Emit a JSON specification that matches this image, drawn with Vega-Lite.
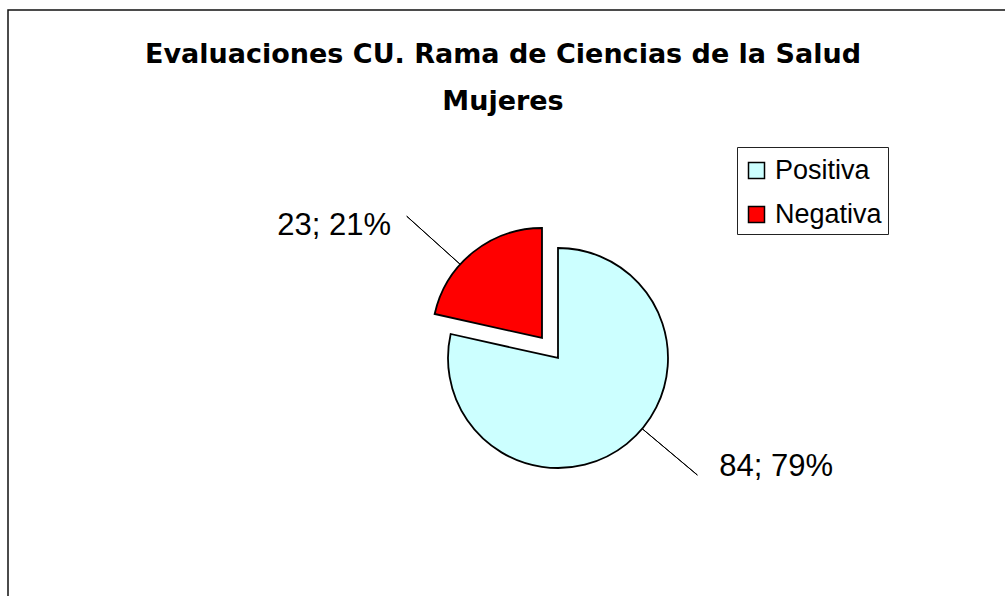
{
  "$schema": "https://vega.github.io/schema/vega-lite/v6.json",
  "width": 1100,
  "height": 696,
  "autosize": {"type": "none"},
  "padding": {"left": 8, "top": 10, "right": 0, "bottom": 0},
  "background": "white",
  "view": {"stroke": "#111", "strokeWidth": 1.5, "fill": "white"},
  "config": {"view": {"stroke": "#111", "strokeWidth": 1.5}, "font": "Liberation Sans"},
  "title": {
    "text": ["Evaluaciones CU. Rama de Ciencias de la Salud", "Mujeres"],
    "font": "DejaVu Sans",
    "fontSize": 27,
    "fontWeight": "bold",
    "color": "#000",
    "anchor": "middle",
    "dx": -55,
    "offset": -106,
    "lineHeight": 47
  },
  "data": {
    "values": [
      {"category": "Positiva", "count": 84, "label": "84; 79%"},
      {"category": "Negativa", "count": 23, "label": "23; 21%"}
    ]
  },
  "layer": [
    {
      "transform": [
        {"stack": "count", "groupby": [], "sort": [{"field": "category", "order": "descending"}], "as": ["t0", "t1"]},
        {"filter": "datum.category === 'Positiva'"}
      ],
      "mark": {"type": "arc", "radius": 110, "stroke": "#000", "strokeWidth": 1.8},
      "encoding": {
        "theta": {"field": "t0", "type": "quantitative"},
        "theta2": {"field": "t1"},
        "color": {
          "field": "category",
          "type": "nominal",
          "scale": {"domain": ["Positiva", "Negativa"], "range": ["#CCFFFF", "#FF0000"]},
          "legend": {
            "title": " ",
            "titleFontSize": 3,
            "titlePadding": 1,
            "orient": "none",
            "legendX": 729,
            "legendY": 137,
            "direction": "vertical",
            "strokeColor": "#222",
            "fillColor": "#fff",
            "padding": 6,
            "symbolType": "square",
            "symbolSize": 256,
            "symbolStrokeColor": "#000",
            "symbolStrokeWidth": 1.5,
            "labelFontSize": 27,
            "labelFont": "Liberation Sans",
            "labelColor": "#000",
            "labelOffset": 5,
            "rowPadding": 16,
            "labelLimit": 0
          }
        }
      }
    },
    {
      "transform": [
        {"stack": "count", "groupby": [], "sort": [{"field": "category", "order": "descending"}], "as": ["t0", "t1"]},
        {"filter": "datum.category === 'Negativa'"}
      ],
      "mark": {"type": "arc", "radius": 110, "stroke": "#000", "strokeWidth": 1.8, "xOffset": -16, "yOffset": -20},
      "encoding": {
        "theta": {"field": "t0", "type": "quantitative"},
        "theta2": {"field": "t1"},
        "color": {"field": "category", "type": "nominal"}
      }
    },
    {
      "transform": [
        {"stack": "count", "groupby": [], "sort": [{"field": "category", "order": "descending"}], "as": ["t0", "t1"]},
        {"filter": "datum.category === 'Positiva'"}
      ],
      "mark": {"type": "arc", "radius": 182, "radius2": 110, "thetaOffset": 2.269, "theta2Offset": -2.663, "filled": false, "stroke": "#000", "strokeWidth": 1, "strokeJoin": "bevel"},
      "encoding": {
        "theta": {"field": "t0", "type": "quantitative"},
        "theta2": {"field": "t1"}
      }
    },
    {
      "transform": [
        {"stack": "count", "groupby": [], "sort": [{"field": "category", "order": "descending"}], "as": ["t0", "t1"]},
        {"filter": "datum.category === 'Negativa'"}
      ],
      "mark": {"type": "arc", "radius": 182, "radius2": 110, "thetaOffset": 0.513, "theta2Offset": -0.838, "filled": false, "stroke": "#000", "strokeWidth": 1, "strokeJoin": "bevel", "xOffset": -16, "yOffset": -20},
      "encoding": {
        "theta": {"field": "t0", "type": "quantitative"},
        "theta2": {"field": "t1"}
      }
    },
    {
      "mark": {"type": "text", "radius": 243, "thetaOffset": -0.44, "yOffset": 2, "font": "Liberation Sans", "fontSize": 31, "align": "center", "baseline": "middle", "color": "#000"},
      "encoding": {
        "theta": {"field": "count", "type": "quantitative", "stack": true},
        "order": {"field": "category", "sort": "descending"},
        "text": {"condition": {"test": "datum.category === 'Positiva'", "field": "label"}, "value": ""}
      }
    },
    {
      "mark": {"type": "text", "radius": 237, "thetaOffset": -0.394, "xOffset": -16, "yOffset": -18, "font": "Liberation Sans", "fontSize": 31, "align": "center", "baseline": "middle", "color": "#000"},
      "encoding": {
        "theta": {"field": "count", "type": "quantitative", "stack": true},
        "order": {"field": "category", "sort": "descending"},
        "text": {"condition": {"test": "datum.category === 'Negativa'", "field": "label"}, "value": ""}
      }
    }
  ]
}
